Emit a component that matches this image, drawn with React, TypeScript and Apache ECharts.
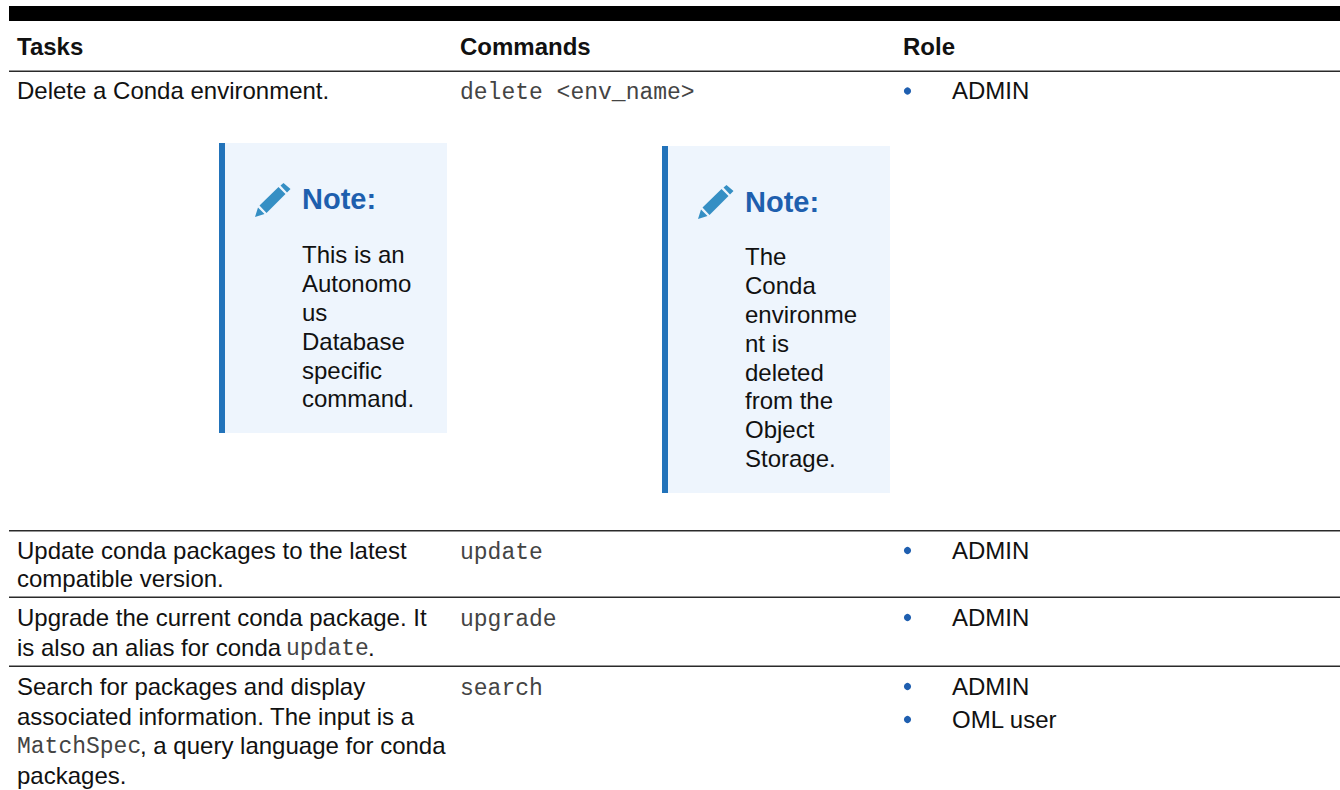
import React, { useEffect, useRef } from "react";
import * as echarts from "echarts";

const headers = ["Tasks", "Commands", "Role"];
const tasks = [
  ["Delete a Conda environment."],
  ["Update conda packages to the latest", "compatible version."],
  ["Upgrade the current conda package. It"],
  ["Search for packages and display", "associated information. The input is a"],
];
const commands = ["delete <env_name>", "update", "upgrade", "search"];
const roles = ["ADMIN", "ADMIN", "ADMIN", "ADMIN", "OML user"];
const noteA = ["This is an", "Autonomo", "us", "Database", "specific", "command."];
const noteB = ["The", "Conda", "environme", "nt is", "deleted", "from the", "Object", "Storage."];

const SANS = "'Liberation Sans', Arial, sans-serif";
const MONO = "'Liberation Mono', monospace";
const PENCIL = "M0 34 L3 24.5 L9.5 31 Z M4.5 22.5 L23.5 4 L30.5 11 L11.5 30 Z M25.5 2.5 L28.5 0 L35.5 6 L32 9.5 Z";

const txt = (x: number, y: number, text: string, o: any = {}) => ({
  type: "text", x, y: o.mono ? y + 1 : y - 0.7,
  style: {
    text, fill: o.fill ?? "#111", font: `${o.weight ?? "normal"} ${o.size ?? 24}px ${o.mono ? MONO : SANS}`,
    verticalAlign: "middle", align: "left",
  },
});
const rule = (y: number, h = 1.6, color = "#2a2a2a") => ({
  type: "rect", shape: { x: 9, y, width: 1331, height: h }, style: { fill: color },
});
const note = (x: number, y: number, h: number, lines: string[], tx: number, ty: number, noteY: number, penY: number) => [
  { type: "rect", shape: { x, y, width: 228, height: h }, style: { fill: "#eef5fd" } },
  { type: "rect", shape: { x, y, width: 6, height: h }, style: { fill: "#2273ba" } },
  { type: "pencil", x: x + 36, y: penY, style: { fill: "#358fc4" } },
  txt(x + 83, noteY, "Note:", { weight: "bold", size: 29, fill: "#1e5fae" }),
  ...lines.map((l, i) => txt(tx, ty + i * 28.8, l)),
];
const bullet = (y: number) => ({
  type: "circle", shape: { cx: 907.5, cy: y, r: 3.6 }, style: { fill: "#1f5fb0" },
});
const code = { mono: true, size: 23, fill: "#444" };

export default function App() {
  const ref = useRef<HTMLDivElement>(null);
  useEffect(() => {
    document.body.style.margin = "0";
    echarts.graphic.registerShape("pencil", echarts.graphic.extendPath(PENCIL, {}));
    const chart = echarts.init(ref.current!, undefined, { renderer: "svg" });
    const elements: any[] = [
      { type: "rect", shape: { x: 9, y: 6, width: 1331, height: 15 }, style: { fill: "#000" } },
      rule(70.5), rule(530), rule(596.5), rule(665.5),
      txt(17, 47, headers[0], { weight: "bold" }),
      txt(460, 47, headers[1], { weight: "bold" }),
      txt(903, 47, headers[2], { weight: "bold" }),
      txt(17, 91, tasks[0][0]),
      txt(17, 551, tasks[1][0]), txt(17, 579, tasks[1][1]),
      txt(17, 618, tasks[2][0]),
      txt(17, 648, "is also an alias for conda"),
      txt(286, 648, commands[1], code),
      txt(368, 648, "."),
      txt(17, 687, tasks[3][0]), txt(17, 717, tasks[3][1]),
      txt(17, 746, "MatchSpec", code),
      txt(140, 746, ", a query language for conda"),
      txt(17, 776, "packages."),
      txt(460, 91.5, commands[0], code),
      txt(460, 551.5, commands[1], code),
      txt(460, 618.5, commands[2], code),
      txt(460, 687.5, commands[3], code),
      bullet(91), txt(952, 91, roles[0]),
      bullet(550.5), txt(952, 551, roles[1]),
      bullet(617.5), txt(952, 618, roles[2]),
      bullet(686.5), txt(952, 687, roles[3]),
      bullet(719.5), txt(952, 720, roles[4]),
      ...note(219, 143, 290, noteA, 302, 255.5, 200, 183),
      ...note(662, 146, 347, noteB, 745, 257.5, 202.5, 185),
    ];
    chart.setOption({ animation: false, graphic: { elements } });
    return () => chart.dispose();
  }, []);
  return <div ref={ref} style={{ width: 1340, height: 790 }} />;
}
